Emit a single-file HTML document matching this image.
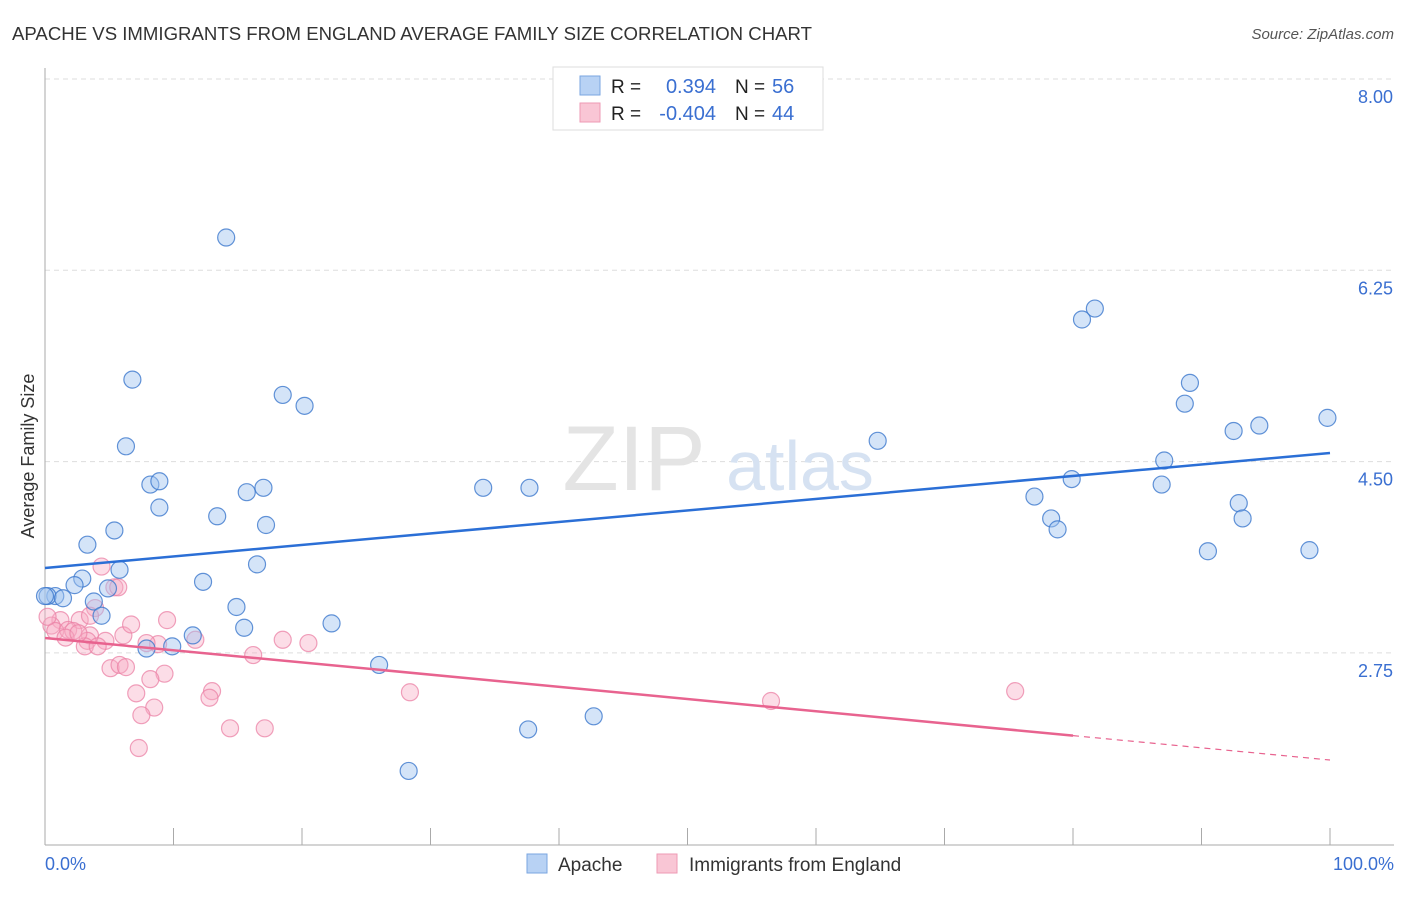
<!DOCTYPE html>
<html><head><meta charset="utf-8"><style>
body{margin:0;background:#fff;font-family:"Liberation Sans",sans-serif;}
svg text{font-family:"Liberation Sans",sans-serif;}
</style></head><body>
<svg id="chart" width="1406" height="892" xmlns="http://www.w3.org/2000/svg">
<text x="12" y="40" font-size="18" fill="#333" textLength="800" lengthAdjust="spacingAndGlyphs">APACHE VS IMMIGRANTS FROM ENGLAND AVERAGE FAMILY SIZE CORRELATION CHART</text>
<text x="1394" y="39" font-size="15" fill="#555" font-style="italic" text-anchor="end">Source: ZipAtlas.com</text>
<g id="grid"></g>
<line x1="45" y1="68" x2="45" y2="845" stroke="#aaa" stroke-width="1"/>
<line x1="45" y1="845" x2="1394" y2="845" stroke="#aaa" stroke-width="1"/>
<text x="634" y="490" font-size="92" fill="#e4e4e4" font-family="Liberation Serif" text-anchor="middle">ZIP</text>
<text x="800" y="490" font-size="70" fill="#d6e2f2" text-anchor="middle">atlas</text>
<text x="34" y="456" font-size="18" fill="#333" text-anchor="middle" transform="rotate(-90 34 456)">Average Family Size</text>
<text x="45" y="870" font-size="18" fill="#3a6fd1">0.0%</text>
<text x="1394" y="870" font-size="18" fill="#3a6fd1" text-anchor="end">100.0%</text>
<g id="pts"></g>
<g id="lines"></g>
<g>
<rect x="553" y="67" width="270" height="63" fill="#fff" stroke="#ddd"/>
<rect x="580" y="76" width="20" height="19" fill="#b8d2f4" stroke="#7aa6e0"/>
<rect x="580" y="103" width="20" height="19" fill="#f9c6d5" stroke="#ee9ab4"/>
<text x="611" y="93" font-size="19" fill="#222">R =</text>
<text x="716" y="93" font-size="20" fill="#3a6fd1" text-anchor="end">0.394</text>
<text x="735" y="93" font-size="19" fill="#222">N =</text>
<text x="772" y="93" font-size="20" fill="#3a6fd1">56</text>
<text x="611" y="120" font-size="19" fill="#222">R =</text>
<text x="716" y="120" font-size="20" fill="#3a6fd1" text-anchor="end">-0.404</text>
<text x="735" y="120" font-size="19" fill="#222">N =</text>
<text x="772" y="120" font-size="20" fill="#3a6fd1">44</text>
</g>
<g>
<rect x="527" y="854" width="20" height="19" fill="#b8d2f4" stroke="#7aa6e0"/>
<text x="558" y="871" font-size="19" fill="#333">Apache</text>
<rect x="657" y="854" width="20" height="19" fill="#f9c6d5" stroke="#ee9ab4"/>
<text x="689" y="871" font-size="19" fill="#333">Immigrants from England</text>
</g>
</svg>
<script>
const yTicks=[8.00,6.25,4.50,2.75];
const xTickPcts=[0,10,20,30,40,50,60,70,80,90,100];
const apacheX=[14.1,6.8,6.3,18.5,20.2,8.9,8.2,8.9,5.4,3.3,13.4,15.7,17.0,17.2,5.8,16.5,2.9,2.3,4.9,0.8,0.2,1.4,3.8,4.4,12.3,14.9,15.5,7.9,9.9,11.5,22.3,26.0,34.1,37.7,64.8,37.6,42.7,28.3,80.7,81.7,89.1,88.7,99.8,94.5,92.5,87.1,79.9,86.9,77.0,78.3,78.8,92.9,93.2,90.5,98.4,0.0];
const apacheY=[6.55,5.25,4.64,5.11,5.01,4.08,4.29,4.32,3.87,3.74,4.00,4.22,4.26,3.92,3.51,3.56,3.43,3.37,3.34,3.27,3.27,3.25,3.22,3.09,3.40,3.17,2.98,2.79,2.81,2.91,3.02,2.64,4.26,4.26,4.69,2.05,2.17,1.67,5.80,5.90,5.22,5.03,4.90,4.83,4.78,4.51,4.34,4.29,4.18,3.98,3.88,4.12,3.98,3.68,3.69,3.27];
const engX=[4.4,5.4,3.9,9.5,2.7,1.2,0.5,0.8,1.8,2.2,1.6,3.5,3.3,6.1,6.7,4.7,3.1,8.8,11.7,18.5,20.5,16.2,7.9,5.1,5.8,6.3,9.3,8.2,7.1,8.5,7.5,13.0,12.8,28.4,14.4,17.1,7.3,56.5,75.5,0.2,5.7,4.1,3.5,2.6];
const engY=[3.54,3.35,3.16,3.05,3.05,3.05,3.00,2.95,2.96,2.95,2.89,2.91,2.86,2.91,3.01,2.86,2.81,2.83,2.87,2.87,2.84,2.73,2.84,2.61,2.64,2.62,2.56,2.51,2.38,2.25,2.18,2.40,2.34,2.39,2.06,2.06,1.88,2.31,2.40,3.08,3.35,2.81,3.09,2.93];
const apacheTrend=[3.527,4.579];
const engTrend=[2.886,1.770];
const engSolidEnd=80;
const X=p=>45+p*12.85, Y=v=>79+(8-v)*191.3/1.75;
const NS="http://www.w3.org/2000/svg";
const g=document.getElementById('grid');
yTicks.forEach(t=>{
 const l=document.createElementNS(NS,'line');
 l.setAttribute('x1',45);l.setAttribute('x2',1394);l.setAttribute('y1',Y(t));l.setAttribute('y2',Y(t));
 l.setAttribute('stroke','#ddd');l.setAttribute('stroke-dasharray','5,4');
 
 
 g.appendChild(l);
 const tx=document.createElementNS(NS,'text');
 tx.setAttribute('x',1393);tx.setAttribute('y',Y(t)+24);tx.setAttribute('text-anchor','end');
 tx.setAttribute('font-size','18');tx.setAttribute('fill','#3a6fd1');tx.textContent=t.toFixed(2);
 
 
 g.appendChild(tx);
});
xTickPcts.forEach(p=>{
 if(p===0)return;
 const l=document.createElementNS(NS,'line');
 l.setAttribute('x1',X(p));l.setAttribute('x2',X(p));l.setAttribute('y1',828);l.setAttribute('y2',845);
 l.setAttribute('stroke','#aaa');
 
 
 g.appendChild(l);
});
const pts=document.getElementById('pts');
function dots(xs,ys,fill,stroke,name){
 xs.forEach((x,i)=>{
  const c=document.createElementNS(NS,'circle');
  c.setAttribute('cx',X(x));c.setAttribute('cy',Y(ys[i]));c.setAttribute('r',8.5);
  c.setAttribute('fill',fill);c.setAttribute('stroke',stroke);c.setAttribute('stroke-width','1.2');
  
  
  pts.appendChild(c);
 });
}
dots(engX,engY,'rgba(248,170,195,0.4)','rgba(235,130,165,0.75)','england-point');
dots(apacheX,apacheY,'rgba(160,195,240,0.45)','rgba(60,120,205,0.8)','apache-point');
const ln=document.getElementById('lines');
function line(x1,v1,x2,v2,col,dash,name){
 const l=document.createElementNS(NS,'line');
 l.setAttribute('x1',X(x1));l.setAttribute('y1',Y(v1));l.setAttribute('x2',X(x2));l.setAttribute('y2',Y(v2));
 l.setAttribute('stroke',col);l.setAttribute('stroke-width',dash?1.2:2.5);
 if(dash)l.setAttribute('stroke-dasharray','6,5');
 
 
 ln.appendChild(l);
}
line(0,apacheTrend[0],100,apacheTrend[1],'#2b6fd6',false,'apache-trendline');
const ev=engTrend[0]+(engTrend[1]-engTrend[0])*engSolidEnd/100;
line(0,engTrend[0],engSolidEnd,ev,'#e8638f',false,'england-trendline');
line(engSolidEnd,ev,100,engTrend[1],'#e8638f',true,'england-trendline-extension');
</script>
</body></html>
